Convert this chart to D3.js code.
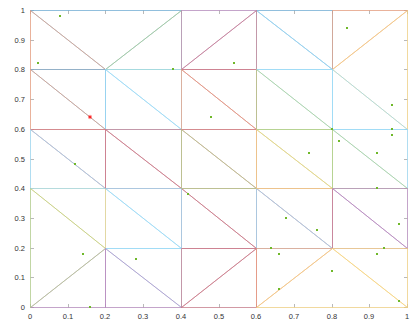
<!DOCTYPE html>
<html><head><meta charset="utf-8">
<script src="https://cdn.jsdelivr.net/npm/d3@7"></script>
<style>html,body{margin:0;padding:0;background:#fff;}svg{display:block;}</style>
</head><body>
<script>
// ---- data ----
const xTicks = [0,0.1,0.2,0.3,0.4,0.5,0.6,0.7,0.8,0.9,1];
const yTicks = [0,0.1,0.2,0.3,0.4,0.5,0.6,0.7,0.8,0.9,1];
const xTickLabels = ["0","0.1","0.2","0.3","0.4","0.5","0.6","0.7","0.8","0.9","1"];
const yTickLabels = ["0","0.1","0.2","0.3","0.4","0.5","0.6","0.7","0.8","0.9","1"];
const palette = ["#0072BD","#D95319","#EDB120","#7E2F8E","#77AC30","#4DBEEE","#A2142F"];
// mesh elements (triangles), vertices in data units, in drawing order
const elements = [
  [[0,1],[0.2,0.8],[0.4,1]],
  [[0,1],[0,0.8],[0.2,0.8]],
  [[0.2,0.8],[0.4,0.8],[0.4,1]],
  [[0.6,1],[0.8,1],[0.8,0.8]],
  [[0.6,1],[0.6,0.8],[0.8,0.8]],
  [[0.4,0.8],[0.4,1],[0.6,1]],
  [[0.4,0.8],[0.6,0.8],[0.6,1]],
  [[0.8,0.8],[0.8,1],[1,1]],
  [[0.8,0.8],[1,0.6],[1,1]],
  [[0,0.8],[0.2,0.8],[0.2,0.6]],
  [[0,0.8],[0,0.6],[0.2,0.6]],
  [[0.2,0.8],[0.4,0.8],[0.4,0.6]],
  [[0.2,0.8],[0.2,0.6],[0.4,0.6]],
  [[0.4,0.8],[0.6,0.8],[0.6,0.6]],
  [[0.4,0.8],[0.4,0.6],[0.6,0.6]],
  [[0.6,0.8],[0.8,0.8],[0.8,0.6]],
  [[0.6,0.8],[0.6,0.6],[0.8,0.6]],
  [[0.8,0.8],[0.8,0.6],[1,0.6]],
  [[0.2,0.4],[0.2,0.2],[0.4,0.2]],
  [[0,0.4],[0.2,0.4],[0.2,0.2]],
  [[0,0.6],[0.2,0.6],[0.2,0.4]],
  [[0,0.6],[0,0.4],[0.2,0.4]],
  [[0.2,0.6],[0.4,0.6],[0.4,0.4]],
  [[0.2,0.6],[0.2,0.4],[0.4,0.4]],
  [[0.4,0.4],[0.4,0.2],[0.6,0.2]],
  [[0.4,0.4],[0.6,0.4],[0.6,0.2]],
  [[0.2,0.4],[0.4,0.4],[0.4,0.2]],
  [[0.4,0.6],[0.6,0.6],[0.6,0.4]],
  [[0.4,0.6],[0.4,0.4],[0.6,0.4]],
  [[0.8,0.4],[0.8,0.2],[1,0.2]],
  [[0.6,0.4],[0.8,0.4],[0.8,0.2]],
  [[0.6,0.4],[0.6,0.2],[0.8,0.2]],
  [[0.6,0.6],[0.8,0.6],[0.8,0.4]],
  [[0.6,0.6],[0.6,0.4],[0.8,0.4]],
  [[0.8,0.6],[1,0.6],[1,0.4]],
  [[0.8,0.6],[0.8,0.4],[1,0.4]],
  [[0.8,0.4],[1,0.4],[1,0.2]],
  [[0,0],[0.2,0],[0.2,0.2]],
  [[0,0.4],[0,0],[0.2,0.2]],
  [[0.2,0.2],[0.4,0.2],[0.4,0]],
  [[0.2,0.2],[0.2,0],[0.4,0]],
  [[0.4,0],[0.4,0.2],[0.6,0.2]],
  [[0.4,0],[0.6,0],[0.6,0.2]],
  [[0.6,0],[0.6,0.2],[0.8,0.2]],
  [[0.8,0.2],[1,0.2],[1,0]],
  [[0.6,0],[0.8,0.2],[1,0]]
];
const elementColors = [0,1,4,0,5,3,6,1,2, 0,1,5,5,6,1,5,4,5, 5,2,6,5,6,6,6,6,5,6,4,3,6,5,4,2,5,4,3, 3,4,5,3,6,6,1,2,2];
const pointX = [0.08,0.02,0.54,0.38,0.84,0.96,0.12,0.48,0.42,0.96,0.96,0.80,0.82,0.74,0.92,0.92,0.14,0.28,0.16,0.68,0.76,0.64,0.66,0.80,0.92,0.94,0.98,0.66,0.98];
const pointY = [0.98,0.82,0.82,0.80,0.94,0.68,0.48,0.64,0.38,0.60,0.58,0.60,0.56,0.52,0.52,0.40,0.18,0.16,0.00,0.30,0.26,0.20,0.18,0.12,0.18,0.20,0.28,0.06,0.02];
const markX = [0.16];
const markY = [0.64];

// ---- drawing ----
const W = 413, H = 324;
const svg = d3.select("body").append("svg").attr("width", W).attr("height", H);
const x = d3.scaleLinear().domain([0,1]).rangeRound([30,407]);
const y = d3.scaleLinear().domain([0,1]).rangeRound([307,10]);
const g = svg.append("g").attr("transform","translate(0.5,0.5)");
const light = c => d3.interpolateRgb(c, "#ffffff")(0.42);

// box
g.append("rect").attr("x",x(0)).attr("y",y(1)).attr("width",x(1)-x(0)).attr("height",y(0)-y(1))
  .attr("fill","none").attr("stroke","#e6e6e6").attr("stroke-width",1);

// ticks
const tickColor = "#8a8a8a", tl = 3.5;
xTicks.forEach(v=>{
  g.append("line").attr("x1",x(v)).attr("x2",x(v)).attr("y1",y(0)).attr("y2",y(0)-tl).attr("stroke",tickColor).attr("stroke-width",0.6);
  g.append("line").attr("x1",x(v)).attr("x2",x(v)).attr("y1",y(1)).attr("y2",y(1)+tl).attr("stroke",tickColor).attr("stroke-width",0.6);
});
yTicks.forEach(v=>{
  g.append("line").attr("y1",y(v)).attr("y2",y(v)).attr("x1",x(0)).attr("x2",x(0)+tl).attr("stroke",tickColor).attr("stroke-width",0.6);
  g.append("line").attr("y1",y(v)).attr("y2",y(v)).attr("x1",x(1)).attr("x2",x(1)-tl).attr("stroke",tickColor).attr("stroke-width",0.6);
});

// mesh
const line = d3.line().x(d=>x(d[0])).y(d=>y(d[1]));
g.append("g").selectAll("path").data(elements).join("path")
  .attr("d", d=>line(d)+"Z")
  .attr("fill","none")
  .attr("stroke",(d,i)=>light(palette[elementColors[i]]))
  .attr("stroke-width",0.7);

// points
svg.append("g").selectAll("rect").data(pointX).join("rect")
  .attr("x",(d,i)=>x(d)-1).attr("y",(d,i)=>y(pointY[i])-1)
  .attr("width",2).attr("height",2).attr("fill","#6fb82a");

// red marker
svg.append("g").selectAll("path").data(markX).join("path")
  .attr("transform",(d,i)=>`translate(${x(d)},${y(markY[i])})`)
  .attr("d", d3.symbol().type(d3.symbolAsterisk).size(12))
  .attr("stroke","#ff0000").attr("stroke-width",0.8).attr("fill","none");

// tick labels
const font = "'Liberation Sans', Arial, Helvetica, sans-serif";
svg.append("g").selectAll("text").data(xTicks).join("text")
  .attr("x",d=>x(d)).attr("y",319)
  .attr("text-anchor","middle").attr("font-family",font).attr("font-size","7.5px").attr("fill","#333")
  .text((d,i)=>xTickLabels[i]);
svg.append("g").selectAll("text").data(yTicks).join("text")
  .attr("x",25).attr("y",d=>y(d)+2.7)
  .attr("text-anchor","end").attr("font-family",font).attr("font-size","7.5px").attr("fill","#333")
  .text((d,i)=>yTickLabels[i]);
</script>
</body></html>
